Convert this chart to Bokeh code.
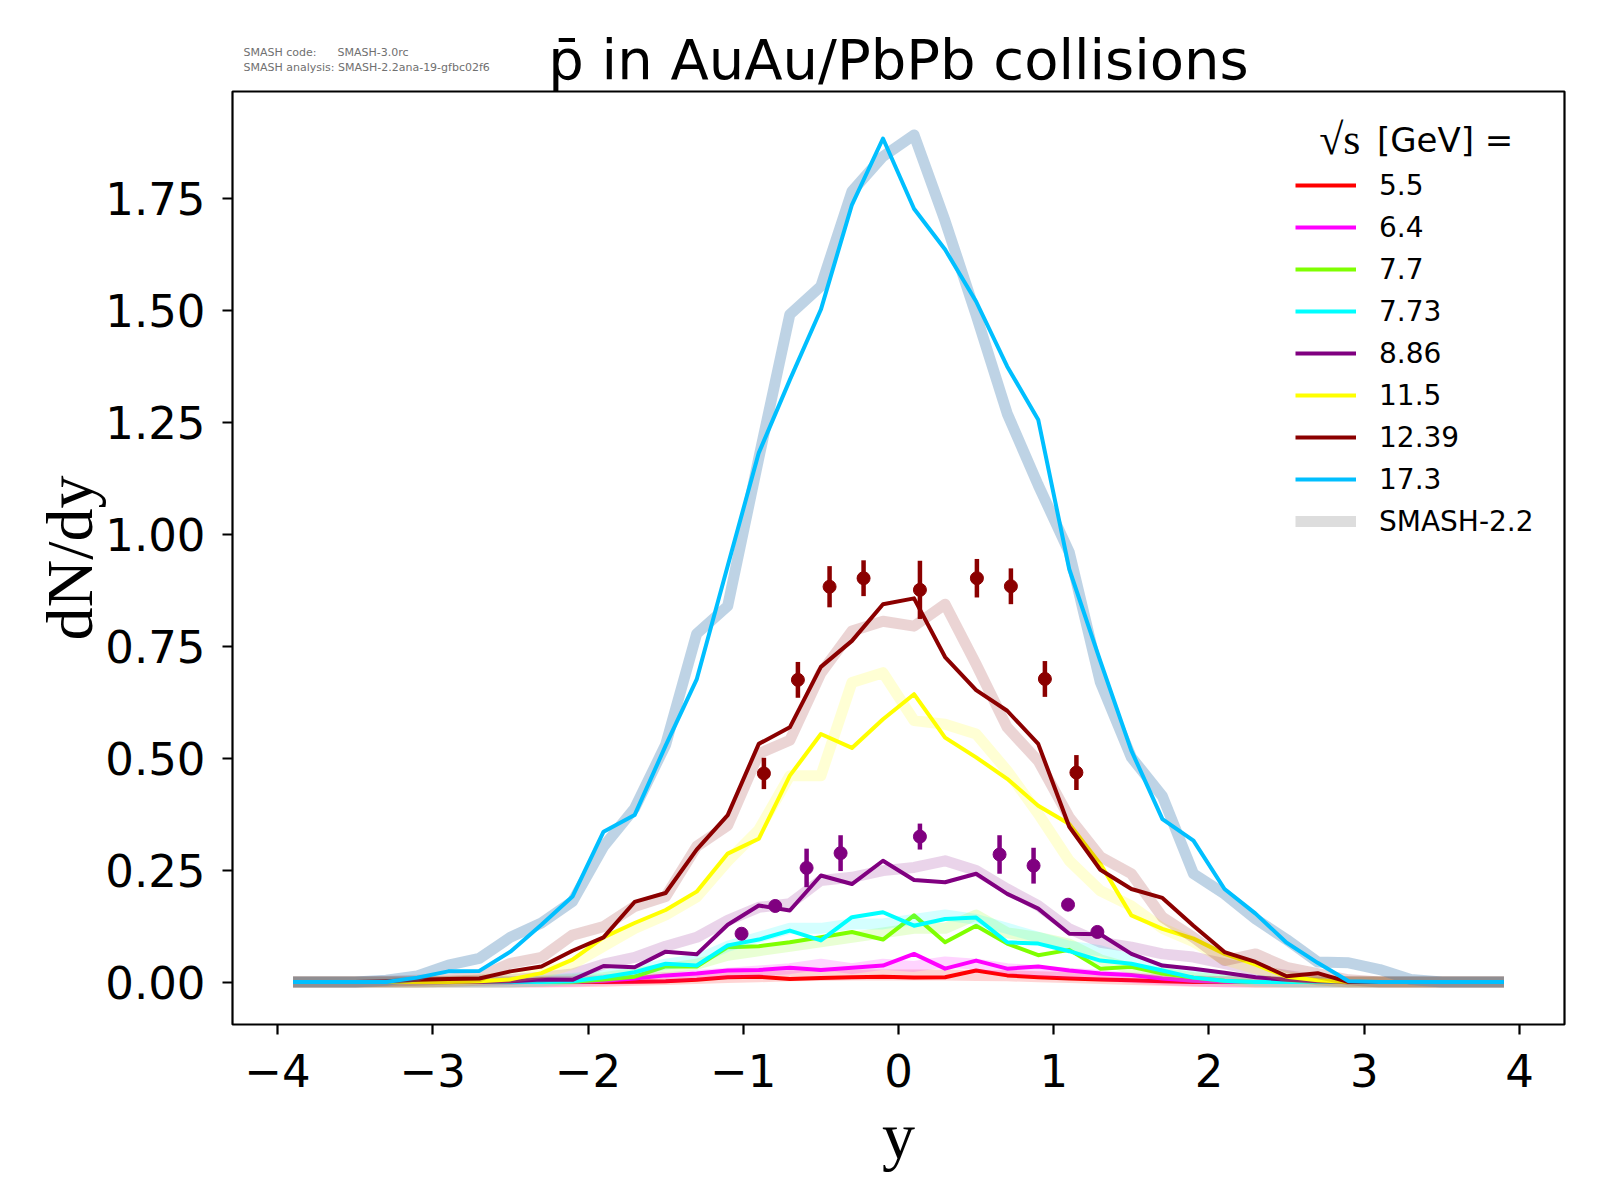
from bokeh.plotting import figure
from bokeh.models import (Range1d, FixedTicker, CustomJSTickFormatter, PrintfTickFormatter,
                          Label, Legend, LegendItem, ColumnDataSource, Title)
from bokeh.embed import file_html
from bokeh.resources import INLINE

# ---------------- data ----------------
rapidity = [-3.9, -3.7, -3.5, -3.3, -3.1, -2.9, -2.7, -2.5, -2.3, -2.1,
            -1.9, -1.7, -1.5, -1.3, -1.1, -0.9, -0.7, -0.5, -0.3, -0.1,
            0.1, 0.3, 0.5, 0.7, 0.9, 1.1, 1.3, 1.5, 1.7, 1.9,
            2.1, 2.3, 2.5, 2.7, 2.9, 3.1, 3.3, 3.5, 3.7, 3.9]

energies = ["5.5", "6.4", "7.7", "7.73", "8.86", "11.5", "12.39", "17.3"]

dndy_5p5 = [0, 0, 0, 0, 0, 0, 0, 0, 0, 0,
            0, 0.001, 0.002, 0.005, 0.011, 0.012, 0.007, 0.009, 0.011, 0.012,
            0.010, 0.011, 0.026, 0.015, 0.011, 0.008, 0.006, 0.004, 0.002, 0,
            0, 0, 0, 0, 0, 0, 0, 0, 0, 0]
smash22_5p5 = [0, 0, 0, 0, 0, 0, 0, 0, 0, 0.001,
               0.002, 0.004, 0.006, 0.008, 0.010, 0.012, 0.014, 0.015, 0.016, 0.016,
               0.016, 0.016, 0.015, 0.014, 0.012, 0.010, 0.008, 0.006, 0.004, 0.002,
               0.001, 0, 0, 0, 0, 0, 0, 0, 0, 0]

dndy_6p4 = [0, 0, 0, 0, 0, 0, 0, 0, 0, 0.001,
            0.003, 0.008, 0.015, 0.019, 0.026, 0.027, 0.032, 0.027, 0.032, 0.037,
            0.063, 0.030, 0.048, 0.030, 0.035, 0.026, 0.019, 0.016, 0.008, 0.003,
            0.001, 0, 0, 0, 0, 0, 0, 0, 0, 0]
smash22_6p4 = [0, 0, 0, 0, 0, 0, 0, 0, 0.001, 0.002,
               0.005, 0.008, 0.010, 0.015, 0.020, 0.025, 0.030, 0.040, 0.030, 0.040,
               0.035, 0.045, 0.040, 0.030, 0.025, 0.020, 0.015, 0.010, 0.006, 0.003,
               0.001, 0, 0, 0, 0, 0, 0, 0, 0, 0]

dndy_7p7 = [0, 0, 0, 0, 0, 0, 0, 0, 0, 0.001,
            0.006, 0.012, 0.035, 0.035, 0.078, 0.080, 0.089, 0.100, 0.112, 0.095,
            0.149, 0.089, 0.126, 0.086, 0.060, 0.072, 0.030, 0.034, 0.019, 0.010,
            0.003, 0, 0, 0, 0, 0, 0, 0, 0, 0]
smash22_7p7 = [0, 0, 0, 0, 0, 0, 0, 0, 0.002, 0.005,
               0.010, 0.020, 0.030, 0.040, 0.060, 0.070, 0.080, 0.090, 0.100, 0.110,
               0.120, 0.120, 0.150, 0.110, 0.100, 0.085, 0.050, 0.030, 0.020, 0.010,
               0.005, 0, 0, 0, 0, 0, 0, 0, 0, 0]

dndy_7p73 = [0, 0, 0, 0, 0, 0, 0, 0, 0, 0.002,
             0.011, 0.022, 0.041, 0.037, 0.082, 0.095, 0.115, 0.093, 0.145, 0.156,
             0.126, 0.141, 0.144, 0.089, 0.086, 0.069, 0.048, 0.041, 0.026, 0.010,
             0.003, 0, 0, 0, 0, 0, 0, 0, 0, 0]
smash22_7p73 = [0, 0, 0, 0, 0, 0, 0, 0, 0.003, 0.008,
                0.015, 0.025, 0.040, 0.050, 0.080, 0.100, 0.120, 0.120, 0.130, 0.130,
                0.140, 0.150, 0.140, 0.120, 0.100, 0.080, 0.070, 0.050, 0.030, 0.020,
                0.010, 0.004, 0, 0, 0, 0, 0, 0, 0, 0]

dndy_8p86 = [0, 0, 0, 0, 0, 0, 0, 0.002, 0.006, 0.005,
             0.036, 0.033, 0.068, 0.062, 0.128, 0.171, 0.160, 0.238, 0.219, 0.271,
             0.228, 0.223, 0.242, 0.197, 0.164, 0.108, 0.107, 0.063, 0.037, 0.030,
             0.021, 0.011, 0.005, 0.002, 0, 0, 0, 0, 0, 0]
smash22_8p86 = [0, 0, 0, 0, 0, 0.002, 0.004, 0.006, 0.011, 0.018,
                0.040, 0.055, 0.080, 0.100, 0.138, 0.167, 0.175, 0.227, 0.234, 0.249,
                0.256, 0.271, 0.249, 0.208, 0.171, 0.119, 0.089, 0.078, 0.063, 0.056,
                0.041, 0.026, 0.015, 0.005, 0, 0, 0, 0, 0, 0]

dndy_11p5 = [0, 0, 0, 0, 0, 0, 0.002, 0.006, 0.020, 0.050,
             0.100, 0.132, 0.161, 0.202, 0.287, 0.320, 0.461, 0.554, 0.523, 0.587,
             0.643, 0.546, 0.502, 0.454, 0.394, 0.353, 0.264, 0.149, 0.119, 0.097,
             0.063, 0.039, 0.012, 0.004, 0, 0, 0, 0, 0, 0]
smash22_11p5 = [0, 0, 0, 0, 0, 0.002, 0.005, 0.010, 0.020, 0.040,
                0.080, 0.120, 0.150, 0.190, 0.270, 0.340, 0.461, 0.461, 0.669, 0.691,
                0.584, 0.576, 0.554, 0.472, 0.376, 0.271, 0.204, 0.170, 0.120, 0.090,
                0.050, 0.030, 0.012, 0.005, 0, 0, 0, 0, 0, 0]

dndy_12p39 = [0, 0, 0, 0.002, 0.005, 0.007, 0.008, 0.024, 0.035, 0.070,
              0.100, 0.179, 0.199, 0.296, 0.373, 0.532, 0.569, 0.704, 0.762, 0.844,
              0.857, 0.726, 0.652, 0.606, 0.532, 0.347, 0.251, 0.208, 0.188, 0.126,
              0.067, 0.045, 0.013, 0.020, 0, 0, 0, 0, 0, 0]
smash22_12p39 = [0, 0, 0, 0.002, 0.004, 0.007, 0.012, 0.042, 0.055, 0.105,
                 0.124, 0.169, 0.191, 0.303, 0.350, 0.510, 0.540, 0.690, 0.784, 0.806,
                 0.795, 0.844, 0.710, 0.569, 0.494, 0.368, 0.280, 0.242, 0.145, 0.100,
                 0.048, 0.063, 0.033, 0.019, 0.005, 0, 0, 0, 0, 0]

dndy_17p3 = [0, 0, 0, 0, 0.010, 0.024, 0.025, 0.068, 0.128, 0.191,
             0.336, 0.373, 0.528, 0.676, 0.930, 1.182, 1.345, 1.502, 1.736, 1.884,
             1.727, 1.636, 1.520, 1.375, 1.256, 0.922, 0.717, 0.517, 0.364, 0.316,
             0.208, 0.153, 0.088, 0.043, 0.002, 0, 0, 0, 0, 0]
smash22_17p3 = [0, 0, 0, 0.004, 0.014, 0.038, 0.053, 0.100, 0.132, 0.180,
                0.303, 0.388, 0.530, 0.778, 0.840, 1.170, 1.491, 1.554, 1.766, 1.844,
                1.892, 1.700, 1.490, 1.270, 1.110, 0.960, 0.670, 0.502, 0.415, 0.242,
                0.197, 0.141, 0.095, 0.045, 0.043, 0.028, 0.006, 0, 0, 0]

# experimental points
exp_12p39_y = [-0.867, -0.648, -0.444, -0.225, 0.138, 0.505, 0.724, 0.943, 1.146]
exp_12p39_dndy = [0.466, 0.675, 0.883, 0.902, 0.876, 0.902, 0.884, 0.677, 0.468]
exp_12p39_err = [0.035, 0.040, 0.046, 0.040, 0.065, 0.043, 0.040, 0.040, 0.039]

exp_8p86_y = [-1.011, -0.794, -0.592, -0.373, 0.138, 0.651, 0.870, 1.092, 1.281]
exp_8p86_dndy = [0.108, 0.170, 0.255, 0.288, 0.325, 0.285, 0.260, 0.173, 0.112]
exp_8p86_err = [0.004, 0.010, 0.043, 0.040, 0.029, 0.043, 0.040, 0.004, 0.004]

x_ticks = [-4, -3, -2, -1, 0, 1, 2, 3, 4]
y_ticks = [0.0, 0.25, 0.5, 0.75, 1.0, 1.25, 1.5, 1.75]

title_text = "p\u0304 in AuAu/PbPb collisions"
info_text = ("SMASH code:" + "\u00a0" * 6 + "SMASH-3.0rc\n"
             "SMASH analysis: SMASH-2.2ana-19-gfbc02f6")
legend_title_root = "\u221as"
legend_title_unit = "[GeV] ="
model_label = "SMASH-2.2"

current = {"5.5": dndy_5p5, "6.4": dndy_6p4, "7.7": dndy_7p7, "7.73": dndy_7p73,
           "8.86": dndy_8p86, "11.5": dndy_11p5, "12.39": dndy_12p39, "17.3": dndy_17p3}
smash22 = {"5.5": smash22_5p5, "6.4": smash22_6p4, "7.7": smash22_7p7, "7.73": smash22_7p73,
           "8.86": smash22_8p86, "11.5": smash22_11p5, "12.39": smash22_12p39, "17.3": smash22_17p3}

# ---------------- styles ----------------
line_colors = {"5.5": "#ff0000", "6.4": "#ff00ff", "7.7": "#7fff00", "7.73": "#00ffff",
               "8.86": "#800080", "11.5": "#ffff00", "12.39": "#8b0000", "17.3": "#00bfff"}
band_colors = dict(line_colors)
band_colors["17.3"] = "#4682b4"
band_alpha = {e: 0.17 for e in energies}
band_alpha["17.3"] = 0.35

SANS = "DejaVu Sans"
SERIF = "Liberation Serif"

p = figure(frame_width=1332, frame_height=933,
           min_border_left=232, min_border_right=28, min_border_top=91, min_border_bottom=168,
           x_range=Range1d(-4.29, 4.29), y_range=Range1d(-0.0947, 1.989),
           output_backend="svg", toolbar_location=None)
p.background_fill_color = "white"
p.border_fill_color = "white"
p.outline_line_color = "black"
p.outline_line_width = 2.2
p.xgrid.visible = False
p.ygrid.visible = False

# titles (closest to frame first)
p.add_layout(Title(text=title_text, align="center", text_font=SANS, text_font_size="56px",
                   text_font_style="normal", text_color="black", standoff=0), "above")
p.add_layout(Title(text=info_text, align="left", offset=11, text_font=SANS,
                   text_font_size="11px", text_font_style="normal", text_color="#707070",
                   text_line_height=1.2, standoff=-100), "above")

line_renderers = {}
for e in energies:
    src = ColumnDataSource(dict(x=rapidity, y=smash22[e]))
    p.line("x", "y", source=src, line_color=band_colors[e], line_alpha=band_alpha[e],
           line_width=11, line_join="round")
    src2 = ColumnDataSource(dict(x=rapidity, y=current[e]))
    line_renderers[e] = p.line("x", "y", source=src2, line_color=line_colors[e],
                               line_width=4, line_join="round")

# experimental data with error bars
for xs, ys, errs, col in [(exp_8p86_y, exp_8p86_dndy, exp_8p86_err, "#800080"),
                          (exp_12p39_y, exp_12p39_dndy, exp_12p39_err, "#8b0000")]:
    lo = [a - b for a, b in zip(ys, errs)]
    hi = [a + b for a, b in zip(ys, errs)]
    s = ColumnDataSource(dict(x=xs, y=ys, lo=lo, hi=hi))
    p.segment(x0="x", y0="lo", x1="x", y1="hi", source=s, line_color=col, line_width=4.5)
    p.scatter("x", "y", source=s, size=13, fill_color=col, line_color=col)

# gray handle for the SMASH-2.2 legend entry (no visible data)
nan = float("nan")
gray_r = p.line(x=[nan, nan], y=[nan, nan], line_color="#dddddd", line_width=11)

# axes
for ax in (p.xaxis[0], p.yaxis[0]):
    ax.axis_line_color = None
    ax.major_tick_line_color = "black"
    ax.major_tick_line_width = 2.2
    ax.major_tick_out = 10
    ax.major_tick_in = 0
    ax.minor_tick_line_color = None
    ax.major_label_text_font = SANS
    ax.major_label_text_font_size = "45px"
    ax.major_label_text_color = "black"
    ax.axis_label_text_font = SERIF
    ax.axis_label_text_font_style = "normal"
    ax.axis_label_text_font_size = "66px"
    ax.axis_label_text_color = "black"

p.xaxis[0].ticker = FixedTicker(ticks=x_ticks)
p.xaxis[0].formatter = CustomJSTickFormatter(
    code="return tick < 0 ? '\u2212' + Math.abs(tick).toFixed(0) : tick.toFixed(0);")
p.xaxis[0].major_label_standoff = 19
p.xaxis[0].axis_label = "y"
p.xaxis[0].axis_label_standoff = 9

p.yaxis[0].ticker = FixedTicker(ticks=y_ticks)
p.yaxis[0].formatter = PrintfTickFormatter(format="%.2f")
p.yaxis[0].major_label_standoff = 17
p.yaxis[0].axis_label = "dN/dy"
p.yaxis[0].axis_label_standoff = -4

# legend
items = [LegendItem(label=e, renderers=[line_renderers[e]]) for e in energies]
items.append(LegendItem(label=model_label, renderers=[gray_r]))
legend = Legend(items=items, location=(1063, 482), orientation="vertical",
                glyph_width=61, glyph_height=42, label_height=42, spacing=0,
                padding=0, margin=0, label_standoff=23,
                label_text_font=SANS, label_text_font_size="28px",
                label_text_color="black", label_text_baseline="middle",
                border_line_color=None, background_fill_alpha=0)
p.add_layout(legend)

# legend heading
p.add_layout(Label(x=2.71, y=1.881, text=legend_title_root, text_font=SERIF,
                   text_font_size="44px", text_color="black", text_baseline="alphabetic"))
p.add_layout(Label(x=3.082, y=1.881, text=legend_title_unit, text_font=SANS,
                   text_font_size="34px", text_color="black", text_baseline="alphabetic"))

open("out.html", "w").write(file_html(p, INLINE))
